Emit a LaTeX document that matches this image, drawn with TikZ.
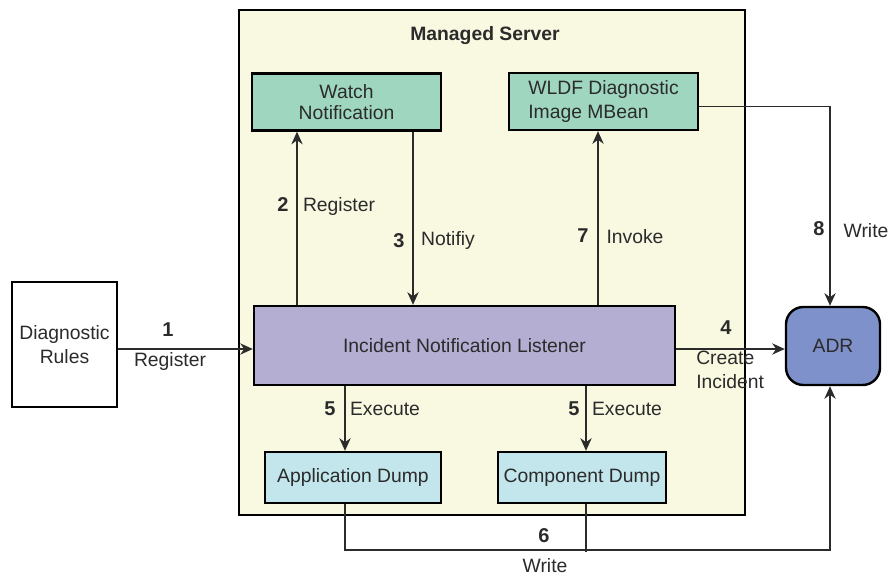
\documentclass[tikz,border=0pt]{standalone}
\usepackage{fontspec}
\setmainfont{Liberation Sans}
\usetikzlibrary{positioning,arrows.meta}

\definecolor{serverbg}{HTML}{F9F8E1}
\definecolor{watchfill}{HTML}{9FD6C0}
\definecolor{listenfill}{HTML}{B4AED3}
\definecolor{dumpfill}{HTML}{C2E6EC}
\definecolor{adrfill}{HTML}{7E91CB}
\definecolor{inkgray}{HTML}{2B2B2B}

\begin{document}
\begin{tikzpicture}[
  x=0.75pt, y=-0.75pt,
  every node/.style={font=\fontsize{14.5}{17.5}\selectfont, text=inkgray, align=center},
  box/.style={draw=black, line width=1.8pt},
  num/.style={font=\fontsize{15}{17}\selectfont\bfseries},
  arrow/.style={-{Stealth[length=9.5pt,width=8.5pt]}, draw=inkgray, line width=0.9pt}
]
\useasboundingbox (0,0) rectangle (891,577);

% server frame
\node (server) [box, fill=serverbg, line width=2pt, minimum width=379.5pt, minimum height=378.75pt] at (492,262.5) {};
\node (title) [font=\fontsize{14.5}{17}\selectfont\bfseries] at (485,36) {Managed Server};

% boxes
\node (watch) [box, fill=watchfill, minimum width=141.75pt, minimum height=42.75pt, font=\fontsize{14.5}{15.5}\selectfont] at (346.5,102) {Watch\\Notification};
\node (wldf) [box, fill=watchfill, minimum width=141.75pt, minimum height=42.75pt, align=left] at (603.5,101.5) {WLDF Diagnostic\\Image MBean};
\node (listener) [box, fill=listenfill, minimum width=315.75pt, minimum height=59.25pt] at (464.5,345.5) {Incident Notification Listener};
\node (appdump) [box, fill=dumpfill, minimum width=132pt, minimum height=38.25pt] at (353,477.5) {Application Dump};
\node (compdump) [box, fill=dumpfill, minimum width=126pt, minimum height=38.25pt] at (582,477.5) {Component Dump};
\node (rules) [box, fill=white, minimum width=78.75pt, minimum height=93.75pt] at (64.5,344.5) {Diagnostic\\Rules};
\node (adr) [box, fill=adrfill, rounded corners=13pt, minimum width=70.5pt, minimum height=58.5pt] at (833,346) {ADR};

% routing lines
\coordinate (mid) at (0,349);
\coordinate (r2) at (297,0);
\coordinate (r3) at (413,0);
\coordinate (r7) at (598,0);
\coordinate (r5a) at (345,0);
\coordinate (r5b) at (586,0);
\coordinate (r8) at (830,0);
\coordinate (row6) at (0,550);

% connectors
\draw[arrow] (rules.east |- mid) -- (listener.west |- mid);
\draw[arrow] (r2 |- listener.north) -- (r2 |- watch.south);
\draw[arrow] (r3 |- watch.south) -- (r3 |- listener.north);
\draw[arrow] (r7 |- listener.north) -- (r7 |- wldf.south);
\draw[arrow] (listener.east |- mid) -- (adr.west |- mid);
\draw[arrow] (r5a |- listener.south) -- (r5a |- appdump.north);
\draw[arrow] (r5b |- listener.south) -- (r5b |- compdump.north);
\draw[arrow] ([yshift=-4pt]wldf.east) -| (r8 |- adr.north);
\draw[arrow] (r5a |- appdump.south) -- (r5a |- row6) -| (r8 |- adr.south);
\draw[draw=inkgray, line width=0.9pt] (r5b |- compdump.south) -- ([yshift=-1.5pt]r5b |- row6);

% labels
\node (n1) [num] at (168,330) {1};
\node (t1) at (170,361) {Register};
\node (n2) [num] at (283,205) {2};
\node (t2) at (339,207) {Register};
\node (n3) [num] at (399,241) {3};
\node (t3) at (448,241) {Notifiy};
\node (n7) [num] at (583,236) {7};
\node (t7) at (635,237) {Invoke};
\node (n8) [num] at (819,229) {8};
\node (t8) at (866,231) {Write};
\node (n4) [num] at (726,328) {4};
\node (t4) [align=left, anchor=west, inner sep=0pt] at (696,370) {Create\\Incident};
\node (n5a) [num] at (330,409) {5};
\node (t5a) at (385,409) {Execute};
\node (n5b) [num] at (574,409) {5};
\node (t5b) at (627,409) {Execute};
\node (n6) [num] at (544,536) {6};
\node (t6) at (545,566) {Write};
\end{tikzpicture}
\end{document}
